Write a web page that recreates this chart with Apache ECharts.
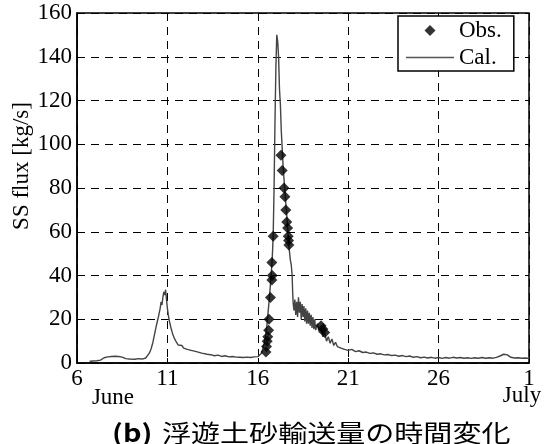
<!DOCTYPE html>
<html>
<head>
<meta charset="utf-8">
<script src="https://cdn.jsdelivr.net/npm/echarts@6/dist/echarts.min.js"></script>
<style>
html,body{margin:0;padding:0;background:#fff;}
#c{width:550px;height:444px;}
</style>
</head>
<body>
<div id="c"></div>
<script>
// ---- data ----
// x = day (June), July 1 = 31
var xTickValues = [6, 11, 16, 21, 26, 31];
var xTickLabels = ['6', '11', '16', '21', '26', '1'];
var yTickValues = [0, 20, 40, 60, 80, 100, 120, 140, 160];

var calDays = [
  6.7, 6.8, 6.9, 7.0, 7.1, 7.2, 7.3, 7.4, 7.5, 7.6, 7.7, 7.8, 7.9, 8.0, 8.1, 8.2, 8.3, 8.4, 8.5, 8.6, 8.7, 8.8, 8.9, 9.0,
  9.2, 9.4, 9.6, 9.8, 9.9, 10.0, 10.1, 10.2, 10.3, 10.4, 10.5, 10.6, 10.65, 10.7, 10.75, 10.8, 10.85, 10.9, 10.95,
  11.0, 11.05, 11.1, 11.2, 11.3, 11.4, 11.5, 11.6, 11.7, 11.8, 11.9, 12.0, 12.1, 12.2, 12.3, 12.4, 12.5, 12.6, 12.7,
  12.8, 12.9, 13.0, 13.2, 13.4, 13.6, 13.8, 14.0, 14.2, 14.4, 14.6, 14.8, 15.0, 15.2, 15.4, 15.6, 15.8, 16.0, 16.1,
  16.2, 16.3, 16.4, 16.5, 16.6, 16.7, 16.8, 16.85, 16.9, 16.95, 17.0, 17.05, 17.1, 17.15, 17.2, 17.25, 17.3, 17.35,
  17.4, 17.45, 17.5, 17.55, 17.6, 17.65, 17.7, 17.75, 17.8, 17.85, 17.9, 17.93, 17.96, 18.0, 18.05, 18.1, 18.15, 18.2,
  18.25, 18.3, 18.35, 18.4, 18.45, 18.5, 18.55, 18.6, 18.65, 18.7, 18.75, 18.8, 18.85, 18.9, 18.95, 19.0, 19.05, 19.1,
  19.15, 19.2, 19.3, 19.4, 19.5, 19.6, 19.7, 19.8, 19.9, 20.0, 20.1, 20.2, 20.3, 20.4, 20.5, 20.6, 20.7, 20.8, 20.9,
  21.0, 21.2, 21.4, 21.6, 21.8, 22.0, 22.2, 22.4, 22.6, 22.8, 23.0, 23.2, 23.4, 23.6, 23.8, 24.0, 24.2, 24.4, 24.6,
  24.8, 25.0, 25.2, 25.4, 25.6, 25.8, 26.0, 26.2, 26.4, 26.6, 26.8, 27.0, 27.2, 27.4, 27.6, 27.8, 28.0, 28.2, 28.4,
  28.6, 28.8, 29.0, 29.2, 29.4, 29.5, 29.6, 29.7, 29.8, 29.9, 30.0, 30.2, 30.4, 30.6, 30.8, 31.0
];
var calValues = [
  0.8, 1.0, 0.9, 1.2, 1.0, 1.5, 1.3, 2.0, 2.4, 2.2, 2.8, 2.6, 3.0, 2.7, 3.1, 2.8, 3.0, 2.5, 2.7, 2.3, 2.0, 2.2, 1.8, 2.0,
  1.7, 2.0, 1.8, 2.3, 3.0, 4.5, 6.5, 9.5, 13.5, 17.5, 21, 25, 28, 26.5, 30, 32.5, 31, 33.5, 29,
  25, 22, 19.5, 16, 13, 11, 9.5, 8.2, 7.5, 8.0, 6.8, 7.2, 6.2, 6.8, 5.8, 6.3, 5.4, 5.9, 5.0,
  5.2, 4.5, 4.8, 4.0, 3.8, 3.3, 3.6, 3.0, 3.3, 2.8, 3.0, 2.7, 2.6, 2.5, 2.7, 2.5, 2.8, 2.9, 3.2,
  4.5, 7, 10.5, 17, 26, 36, 48, 58, 80, 110, 135, 150, 147, 140, 125, 118, 106, 98,
  90, 84, 79, 73, 68, 62, 56, 51, 47, 45, 40, 32, 27, 24, 29, 22, 28, 21,
  30, 23, 28, 20, 27, 21, 26, 19, 25, 18, 24, 18, 23, 17, 22, 16, 21, 15.5,
  20, 15, 18, 14, 16, 12, 14, 10, 12, 9, 11, 8, 9.5, 7.5, 8.2, 6.8, 7.5, 6.2, 6.8,
  5.8, 6.2, 5.2, 5.6, 4.8, 5.0, 4.4, 4.6, 4.0, 4.2, 3.7, 3.9, 3.4, 3.6, 3.1, 3.4, 2.9, 3.2, 2.6,
  2.9, 2.4, 2.7, 2.3, 2.6, 2.2, 2.5, 2.1, 2.5, 2.2, 2.6, 2.3, 2.5, 2.2, 2.4, 2.1, 2.4, 2.2, 2.5,
  2.2, 2.4, 2.2, 2.6, 3.2, 3.9, 4.0, 3.6, 3.7, 2.9, 2.6, 2.3, 2.4, 2.2, 2.3, 2.1
];

var obsDays = [
  16.45, 16.48, 16.52, 16.55, 16.6, 16.62, 16.7, 16.78, 16.8, 16.78, 16.85,
  17.28, 17.35, 17.45, 17.5, 17.55, 17.6, 17.65, 17.68, 17.7, 17.72,
  19.5, 19.6, 19.7
];
var obsValues = [
  5, 7.5, 10, 12, 15, 20, 30, 38, 40, 46, 58,
  95, 88, 80, 76, 70, 64.5, 61.7, 58, 56, 54,
  17, 15.5, 14
];

// ---- build ----
function zip(a, b) { var r = []; for (var i = 0; i < a.length; i++) r.push([a[i], b[i]]); return r; }

var serif = '"Liberation Serif", "Times New Roman", serif';
var chart = echarts.init(document.getElementById('c'), null, { renderer: 'canvas' });

chart.setOption({
  backgroundColor: '#fff',
  animation: false,
  grid: { left: 77, right: 21, top: 13, bottom: 81, show: true, borderColor: '#000', borderWidth: 1.5, backgroundColor: 'transparent' },
  xAxis: {
    type: 'value', min: 6, max: 31, interval: 5,
    axisLine: { show: true, lineStyle: { color: '#000', width: 1.5 } },
    axisTick: { show: true, inside: true, length: 5, lineStyle: { color: '#000' } },
    axisLabel: {
      color: '#000', fontFamily: serif, fontSize: 23, margin: 4,
      formatter: function (v) { var i = xTickValues.indexOf(v); return i >= 0 ? xTickLabels[i] : ''; }
    },
    splitLine: { show: true, lineStyle: { color: '#000', type: [8, 6], width: 1 } }
  },
  yAxis: {
    type: 'value', min: 0, max: 160, interval: 20,
    axisLine: { show: true, lineStyle: { color: '#000', width: 1.5 } },
    axisTick: { show: true, inside: true, length: 5, lineStyle: { color: '#000' } },
    axisLabel: { color: '#000', fontFamily: serif, fontSize: 23, margin: 5 },
    splitLine: { show: true, lineStyle: { color: '#000', type: [8, 6], width: 1 } }
  },
  legend: {
    orient: 'vertical', left: 398, top: 16,
    padding: [3, 12, 2, 8], itemGap: 4, itemWidth: 48, itemHeight: 11,
    symbolKeepAspect: true,
    backgroundColor: '#fff', borderColor: '#000', borderWidth: 1.5, borderRadius: 0,
    textStyle: { fontFamily: serif, fontSize: 23, color: '#000' },
    data: [
      { name: 'Obs.', icon: 'path://M5,0 L10,5 L5,10 L0,5 Z', itemStyle: { color: '#000' } },
      { name: 'Cal.', icon: 'path://M0,0 L48,0 L48,1.6 L0,1.6 Z', itemStyle: { color: '#555' } }
    ]
  },
  series: [
    {
      name: 'Cal.', type: 'line', data: zip(calDays, calValues),
      showSymbol: false, symbol: 'none',
      lineStyle: { color: '#444', width: 1.4 }, itemStyle: { color: '#444' }, z: 2
    },
    {
      name: 'Obs.', type: 'scatter', data: zip(obsDays, obsValues),
      symbol: 'diamond', symbolSize: 11, itemStyle: { color: '#000' }, z: 3
    }
  ],
  graphic: [
    { type: 'text', x: 22, y: 166, rotation: Math.PI / 2,
      style: { text: 'SS flux [kg/s]', fontFamily: serif, fontSize: 23, fill: '#000', textAlign: 'center', textVerticalAlign: 'middle' } },
    { type: 'text', x: 113, y: 398,
      style: { text: 'June', fontFamily: serif, fontSize: 23, fill: '#000', textAlign: 'center', textVerticalAlign: 'middle' } },
    { type: 'text', x: 522, y: 396,
      style: { text: 'July', fontFamily: serif, fontSize: 23, fill: '#000', textAlign: 'center', textVerticalAlign: 'middle' } },
    { type: 'text', x: 112, y: 433, scaleX: 1.2,
      style: { text: '(b)', fontFamily: '"Noto Sans CJK JP", "Noto Sans", sans-serif', fontWeight: 'bold', fontSize: 24, fill: '#000', textAlign: 'left', textVerticalAlign: 'middle' } },
    { type: 'text', x: 162, y: 433, scaleX: 1.21,
      style: { text: '浮遊土砂輸送量の時間変化', fontFamily: '"Noto Sans CJK JP", sans-serif', fontSize: 24, fill: '#000', textAlign: 'left', textVerticalAlign: 'middle' } }
  ]
});
</script>
</body>
</html>
